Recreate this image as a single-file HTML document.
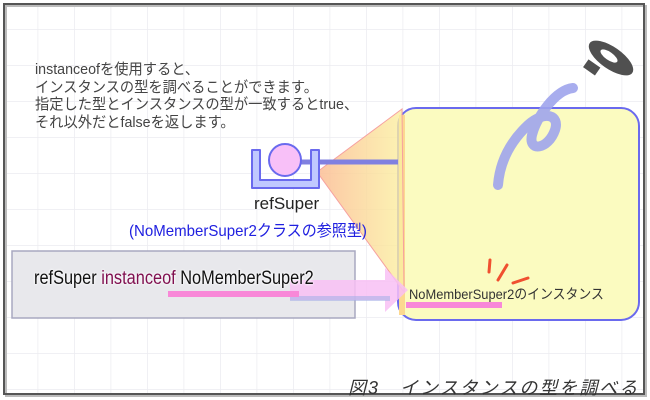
<!DOCTYPE html>
<html><head><meta charset="utf-8"><style>
body{margin:0;width:650px;height:400px;background:#fff;overflow:hidden;font-family:"Liberation Sans","Noto Sans CJK JP",sans-serif}
.t{position:absolute;white-space:nowrap}
</style></head><body>
<svg width="650" height="400" style="position:absolute;left:0;top:0">
<defs>
<pattern id="g" x="1" y="29" width="36.5" height="36" patternUnits="userSpaceOnUse">
<path d="M0 0H36.5M0 0V36" stroke="#ececf0" stroke-width="1.5" fill="none"/>
</pattern>
<linearGradient id="cone" x1="0" x2="1"><stop offset="0" stop-color="#fbbf9a" stop-opacity=".9"/><stop offset="1" stop-color="#fbf0a0" stop-opacity=".8"/></linearGradient>
</defs>
<rect x="5" y="5" width="640" height="390" fill="url(#g)"/>
<rect x="6" y="6" width="640" height="390" fill="none" stroke="#bbb" stroke-width="2"/>
<rect x="4" y="4" width="640" height="390" fill="none" stroke="#555" stroke-width="2"/>
<rect x="398" y="108" width="241" height="212" rx="18" fill="#fbfbc0" stroke="#6a6aee" stroke-width="2"/>
<rect x="399" y="115" width="6" height="200" fill="#fcd890"/>
<polygon points="317,172 402,109 404,292" fill="url(#cone)" stroke="#f6a0a0" stroke-width="1"/>
<line x1="300" y1="162" x2="398" y2="162" stroke="#8080e0" stroke-width="5"/>
<path d="M252 150 H260 V180 H311 V150 H319 V188 H252 Z" fill="#c0c8ff" stroke="#6a6aee" stroke-width="2" stroke-linejoin="round"/>
<circle cx="285" cy="160" r="16" fill="#f8c0f8" stroke="#6a6aee" stroke-width="2"/>
<rect x="12" y="251" width="343" height="67" fill="#e8e8ec" stroke="#a8a8c0" stroke-width="1.5"/>
<polygon points="290,280 385,280 385,268 408,290 385,312 385,300 290,300" fill="#f8c0f4" opacity=".85"/>
<rect x="290" y="296" width="100" height="5" fill="#a8b0e8" opacity=".6"/>
<rect x="168" y="291" width="131" height="6" fill="#f888d8"/>
<rect x="406" y="302" width="96" height="6" fill="#f888d8"/>
<g stroke="#f05030" stroke-width="3" stroke-linecap="round">
<line x1="490" y1="260" x2="489" y2="272"/><line x1="507" y1="265" x2="498" y2="280"/><line x1="513" y1="283" x2="528" y2="278"/>
</g>
<path d="M498 185 C500 160 512 140 528 125 C545 110 560 115 555 130 C548 150 528 152 532 135 C536 118 555 90 573 88" fill="none" stroke="#9ea4ec" stroke-width="10" stroke-linecap="round" opacity=".9"/>
<ellipse cx="611" cy="58" rx="26" ry="11" transform="rotate(35 611 58)" fill="#505050"/>
<ellipse cx="609" cy="56" rx="10" ry="4" transform="rotate(35 609 56)" fill="#fff"/>
<rect x="584" y="62" width="16" height="11" transform="rotate(35 592 67)" fill="#505050" stroke="#fff" stroke-width="1.5"/>
</svg>
<div class="t" style="left:35px;top:61px;font-size:15px;line-height:17.5px;color:#444;transform:scaleX(.95);transform-origin:left">instanceofを使用すると、<br>インスタンスの型を調べることができます。<br>指定した型とインスタンスの型が一致するとtrue、<br>それ以外だとfalseを返します。</div>
<div class="t" style="left:254px;top:194px;font-size:17px;color:#222">refSuper</div>
<div class="t" style="left:129px;top:217px;font-size:16px;color:#2020e0;transform:scaleX(.94);transform-origin:left">(NoMemberSuper2クラスの参照型)</div>
<div class="t" style="left:34px;top:268px;font-size:19px;color:#111;transform:scaleX(.86);transform-origin:left;text-shadow:0 0 3px #fff,0 0 3px #fff">refSuper <span style="color:#801050">instanceof</span> NoMemberSuper2</div>
<div class="t" style="left:409px;top:284px;font-size:14px;color:#333;transform:scaleX(.92);transform-origin:left">NoMemberSuper2のインスタンス</div>
<div class="t" style="left:348px;top:374px;font-size:18px;color:#333;font-style:italic;letter-spacing:2px">図3　インスタンスの型を調べる</div>
</body></html>
